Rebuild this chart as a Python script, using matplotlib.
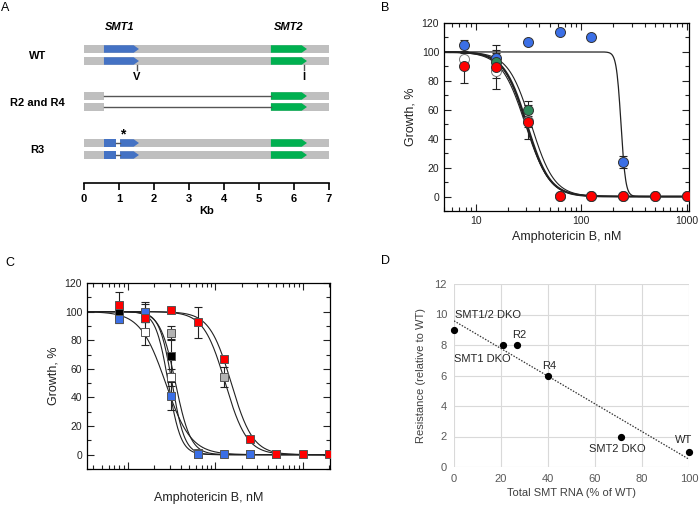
import numpy as np
import matplotlib
matplotlib.use("Agg")
import matplotlib.pyplot as plt
from matplotlib.patches import Polygon, Rectangle
from matplotlib.ticker import MultipleLocator, LogLocator, NullFormatter

plt.rcParams['font.family'] = ['Liberation Sans', 'DejaVu Sans']

# ---- panel A: gene maps (kb) ----
kb_ticks = [0, 1, 2, 3, 4, 5, 6, 7]
smt1 = (0.57, 1.57)
smt2 = (5.34, 6.37)
smt1_r3 = [(0.57, 0.91), (1.03, 1.57)]

# ---- panel B: circles ----
conc_b = [7.8125, 15.625, 31.25, 62.5, 125, 250, 500, 1000]
b_white = [95, 87, 52, np.nan, np.nan, np.nan, np.nan, np.nan]
b_white_err = [4, 5, 4, 0, 0, 0, 0, 0]
b_blue = [104.5, 96, 107, 114, 110.5, 24, np.nan, np.nan]
b_blue_err = [4, 5, 0, 0, 0, 4, 0, 0]
b_green = [np.nan, 93, 60, 0.5, 0.5, 0.5, 0.5, 0.5]
b_green_err = [0, 6, 6, 0, 0, 0, 0, 0]
b_red = [90.5, 89.5, 51.5, 0.5, 0.5, 0.5, 0.5, 0.5]
b_red_err = [12, 15, 12, 0, 0, 0, 0, 0]
# fitted curves: (IC50, Hill slope, line width)
b_fits = [(238, 20, 0.9), (33.5, 4, 0.8), (30.5, 4, 1.5), (29.5, 3.8, 0.8), (30, 4, 0.8)]

# ---- panel C: squares ----
conc_c = [7.8125, 15.625, 31.25, 62.5, 125, 250, 500, 1000, 2000]
c_white = [100, 86, 54, 0.5, np.nan, np.nan, np.nan, np.nan, np.nan]
c_white_err = [3, 9, 6, 0, 0, 0, 0, 0, 0]
c_gray = [np.nan, np.nan, 85, np.nan, 54, 0.5, 0.5, np.nan, np.nan]
c_gray_err = [0, 0, 5, 0, 7, 0, 0, 0, 0]
c_black = [99, 99, 69, 1, np.nan, np.nan, np.nan, np.nan, np.nan]
c_black_err = [3, 6, 12, 0, 0, 0, 0, 0, 0]
c_blue = [95, 99.5, 41, 0.5, 0.5, 0.5, np.nan, np.nan, np.nan]
c_blue_err = [3, 7, 10, 0, 0, 0, 0, 0, 0]
c_red = [104.5, 95.5, 101, 92.5, 67, 11, 0.5, 0.5, 0.5]
c_red_err = [9, 3, 0, 11, 0, 0, 0, 0, 0]
c_fits = [(27, 3, 0.8), (29, 6, 0.8), (32, 6, 0.8), (35, 5, 0.8), (130, 3.5, 0.8), (152, 3.5, 0.8)]

# ---- panel D ----
rna = [0, 21, 27, 40, 71, 100]
resist = [9, 8, 8, 6, 2, 1]
d_labels = ['SMT1/2 DKO', 'SMT1 DKO', 'R2', 'R4', 'SMT2 DKO', 'WT']

c_blue_pt = '#3b6fe6'
c_red_pt = '#ff0000'
c_green_pt = '#2e8a5a'

fig = plt.figure(figsize=(7, 5.05), dpi=100)

def fr(l, t, r, b):
    return [l / 700, 1 - b / 505, (r - l) / 700, (b - t) / 505]

# ================= A =================
axA = fig.add_axes(fr(84, 15, 329, 183))
axA.set_xlim(0, 7)
axA.set_ylim(183, 15)
for s in ['top', 'right', 'left']:
    axA.spines[s].set_visible(False)
axA.spines['bottom'].set_linewidth(1.2)
axA.set_yticks([])
axA.set_xticks(kb_ticks)
axA.set_xticklabels([str(k) for k in kb_ticks], fontweight='bold', fontsize=8)
axA.tick_params(axis='x', direction='out', length=5, width=1.2, pad=3)
axA.set_xlabel('Kb', fontweight='bold', fontsize=8, labelpad=1)

gray_bar = '#bfbfbf'
blue_gene = '#4472c4'
green_gene = '#00b050'
hb = 7.5
tip = 0.15

def bar(x0, x1, y, col):
    axA.add_patch(Rectangle((x0, y - hb / 2), x1 - x0, hb, color=col, lw=0, clip_on=False))

def gene(x0, x1, y, col):
    pts = [(x0, y - hb / 2), (x1 - tip, y - hb / 2), (x1, y), (x1 - tip, y + hb / 2), (x0, y + hb / 2)]
    axA.add_patch(Polygon(pts, closed=True, color=col, lw=0, clip_on=False))

for y in [49, 61]:
    bar(0, 7, y, gray_bar)
    gene(smt1[0], smt1[1], y, blue_gene)
    gene(smt2[0], smt2[1], y, green_gene)
for y in [96, 107]:
    bar(0, smt1[0], y, gray_bar)
    axA.plot([smt1[0], smt2[0]], [y, y], color='#555555', lw=1)
    bar(smt2[0], 7, y, gray_bar)
    gene(smt2[0], smt2[1], y, green_gene)
for y in [143, 155]:
    bar(0, 7, y, gray_bar)
    bar(smt1_r3[0][1], smt1_r3[1][0], y, 'white')
    axA.plot([smt1_r3[0][1], smt1_r3[1][0]], [y, y], color='#555555', lw=1)
    bar(smt1_r3[0][0], smt1_r3[0][1], y, blue_gene)
    gene(smt1_r3[1][0], smt1_r3[1][1], y, blue_gene)
    gene(smt2[0], smt2[1], y, green_gene)

axA.text(1.03, 27, 'SMT1', fontsize=8, fontweight='bold', fontstyle='italic', ha='center', va='center')
axA.text(5.86, 27, 'SMT2', fontsize=8, fontweight='bold', fontstyle='italic', ha='center', va='center')
axA.plot([1.51, 1.51], [65, 70], color='#555555', lw=1)
axA.plot([6.29, 6.29], [65, 70], color='#555555', lw=1)
axA.text(1.51, 77, 'V', fontsize=8, fontweight='bold', ha='center', va='center')
axA.text(6.29, 77, 'I', fontsize=8, fontweight='bold', ha='center', va='center')
axA.text(1.11, 134, '*', fontsize=10, fontweight='bold', ha='center', va='center')
for lab, y in [('WT', 56), ('R2 and R4', 103), ('R3', 150)]:
    axA.text(-1.33, y, lab, fontsize=8, fontweight='bold', ha='center', va='center', clip_on=False)

# ================= helpers for B/C =================
def hill(x, ic50, h):
    return 100.0 / (1.0 + (x / ic50) ** h)

def style_dose(ax, xlim):
    ax.set_xscale('log')
    ax.set_xlim(*xlim)
    ax.set_ylim(-10, 120)
    ax.yaxis.set_major_locator(MultipleLocator(20))
    ax.yaxis.set_minor_locator(MultipleLocator(10))
    ax.xaxis.set_major_locator(LogLocator(base=10))
    ax.xaxis.set_minor_locator(LogLocator(base=10, subs=np.arange(2, 10)))
    ax.xaxis.set_minor_formatter(NullFormatter())
    ax.tick_params(which='both', direction='in', top=True, right=True, labelsize=7.5, colors='#222222', width=0.8)
    ax.tick_params(which='major', length=5)
    ax.tick_params(which='minor', length=3)
    for s in ax.spines.values():
        s.set_linewidth(0.9)
    ax.set_ylabel('Growth, %', fontsize=9, color='#222222')
    ax.set_xlabel('Amphotericin B, nM', fontsize=9, color='#222222')

def pts(ax, x, y, e, face, marker, ms, edge):
    ax.errorbar(x, y, yerr=e, fmt='none', ecolor='#222222', elinewidth=0.8, capsize=3, capthick=0.8, zorder=3)
    ax.plot(x, y, ls='none', marker=marker, ms=ms, mfc=face, mec=edge, mew=0.7, zorder=4)

# ================= B =================
axB = fig.add_axes(fr(444, 23, 689, 211))
style_dose(axB, (5, 1050))
xs = np.logspace(np.log10(5), np.log10(1050), 400)
for ic, h, lw in b_fits:
    axB.plot(xs, hill(xs, ic, h), color='#222222', lw=lw, zorder=2)
pts(axB, conc_b, b_white, b_white_err, 'white', 'o', 7.2, '#777777')
pts(axB, conc_b, b_blue, b_blue_err, c_blue_pt, 'o', 7.2, '#333333')
pts(axB, conc_b, b_green, b_green_err, c_green_pt, 'o', 7.2, '#333333')
pts(axB, conc_b, b_red, b_red_err, c_red_pt, 'o', 7.2, '#333333')
axB.set_xticks([10, 100, 1000])
axB.set_xticklabels(['10', '100', '1000'])

# ================= C =================
axC = fig.add_axes(fr(87, 283, 330, 469))
style_dose(axC, (3.4, 2050))
xs = np.logspace(np.log10(3.4), np.log10(2050), 400)
for ic, h, lw in c_fits:
    axC.plot(xs, hill(xs, ic, h), color='#222222', lw=lw, zorder=2)
pts(axC, conc_c, c_white, c_white_err, 'white', 's', 5.6, '#555555')
pts(axC, conc_c, c_gray, c_gray_err, '#b3b3b3', 's', 5.6, '#555555')
pts(axC, conc_c, c_black, c_black_err, 'black', 's', 5.6, '#555555')
pts(axC, conc_c, c_blue, c_blue_err, c_blue_pt, 's', 5.6, '#555555')
pts(axC, conc_c, c_red, c_red_err, c_red_pt, 's', 5.6, '#555555')
axC.xaxis.set_major_formatter(NullFormatter())
axC.xaxis.labelpad = 13

# ================= D =================
axD = fig.add_axes(fr(454, 284, 689, 467))
axD.set_xlim(0, 100)
axD.set_ylim(0, 12)
axD.xaxis.set_major_locator(MultipleLocator(20))
axD.yaxis.set_major_locator(MultipleLocator(2))
axD.grid(True, color='#d9d9d9', lw=0.8)
axD.set_axisbelow(True)
for s in axD.spines.values():
    s.set_visible(False)
axD.tick_params(length=0, labelsize=8, colors='#595959', pad=5)
axD.set_xlabel('Total SMT RNA (% of WT)', fontsize=8, color='#404040', labelpad=3)
axD.set_ylabel('Resistance (relative to WT)', fontsize=8, color='#404040', labelpad=6)
coef = np.polyfit(rna, resist, 1)
xl = np.array([0, 100])
axD.plot(xl, np.polyval(coef, xl), color='#333333', lw=0.9, ls=(0, (1.2, 1.2)), zorder=2)
axD.plot(rna, resist, 'o', color='black', ms=4.2, zorder=3, clip_on=False)
lab_pos = {'SMT1/2 DKO': (0.6, 10.0, 'left'), 'SMT1 DKO': (0.2, 7.1, 'left'),
           'R2': (27.7, 8.65, 'center'), 'R4': (40.4, 6.6, 'center'),
           'SMT2 DKO': (69.4, 1.2, 'center'), 'WT': (97.9, 1.78, 'center')}
for lab in d_labels:
    x, y, ha = lab_pos[lab]
    axD.text(x, y, lab, fontsize=8, color='#262626', ha=ha, va='center', clip_on=False)

# panel letters
for letter, x, y in [('A', 5, 8), ('B', 385, 8), ('C', 10, 263), ('D', 385, 261)]:
    fig.text(x / 700, 1 - y / 505, letter, fontsize=9, ha='center', va='center')

fig.savefig('out.png', dpi=100)
